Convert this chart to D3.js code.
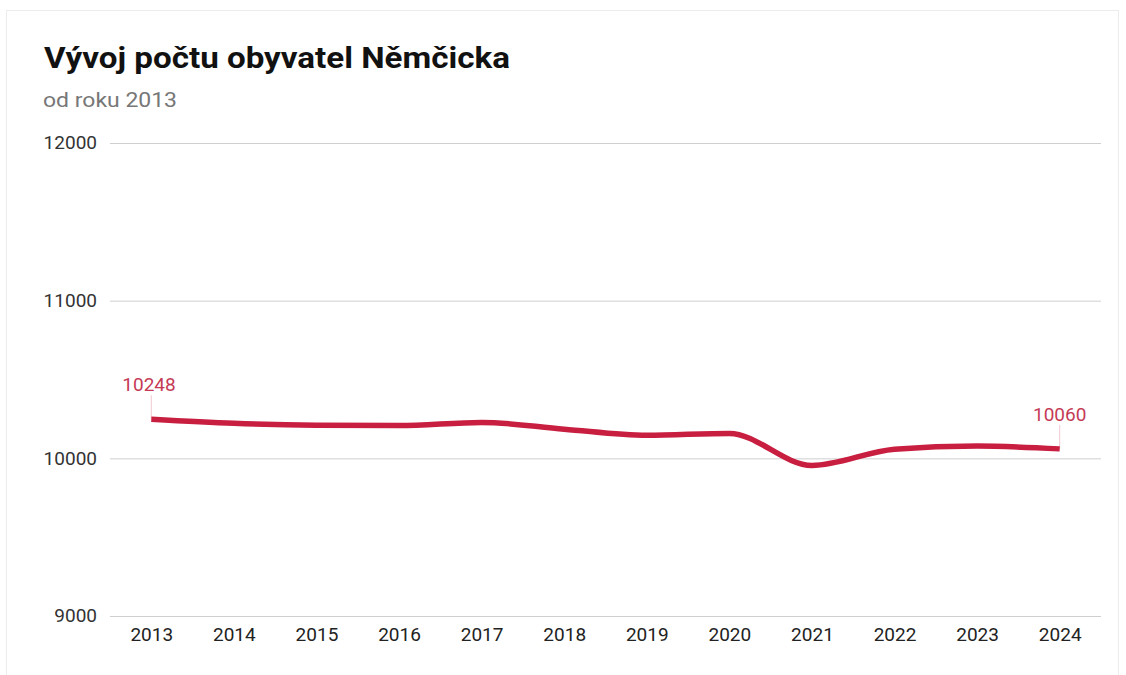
<!DOCTYPE html>
<html>
<head>
<meta charset="utf-8">
<script src="https://cdn.jsdelivr.net/npm/d3@7"></script>
<style>
  body { margin: 0; background: #fff; }
  svg { display: block; font-family: Roboto, "Noto Sans", sans-serif; }
</style>
</head>
<body>
<svg id="chart" width="1126" height="675"></svg>
<script>
  // data
  const years = ['2013', '2014', '2015', '2016', '2017', '2018', '2019', '2020', '2021', '2022', '2023', '2024'];
  const population = [10248, 10222, 10210, 10208, 10228, 10185, 10146, 10158, 9955, 10058, 10078, 10060];
  const yTicks = [9000, 10000, 11000, 12000];

  const svg = d3.select('#chart');

  let padLeft = 110, padRight = 1101, padTop = 143, padBottom = 616;

  // card frame
  svg.append('rect')
    .attr('x', 6.5).attr('y', 10.5)
    .attr('width', 1112).attr('height', 700)
    .attr('fill', 'none')
    .attr('stroke', '#ececec');

  svg.append('text')
    .attr('x', 44).attr('y', 68)
    .attr('font-size', 30).attr('font-weight', 700)
    .attr('fill', '#111')
    .attr('textLength', 466)
    .attr('lengthAdjust', 'spacingAndGlyphs')
    .text('Vývoj počtu obyvatel Němčicka');

  svg.append('text')
    .attr('x', 43).attr('y', 107)
    .attr('font-size', 20)
    .attr('fill', '#777')
    .attr('textLength', 134)
    .attr('lengthAdjust', 'spacingAndGlyphs')
    .text('od roku 2013');

  let scaleX = d3.scalePoint()
    .domain(years)
    .range([padLeft, padRight])
    .padding(0.5);

  let scaleY = d3.scaleLinear()
    .domain([9000, 12000])
    .range([padBottom, padTop]);

  /*
   * grid + y labels
   */
  let axisY = d3.axisLeft(scaleY)
    .tickValues(yTicks)
    .tickSize(-(padRight - padLeft))
    .tickPadding(13)
    .tickFormat(d3.format('d'));

  let gy = svg.append('g')
    .attr('transform', 'translate(' + padLeft + ',0)')
    .call(axisY);
  gy.select('.domain').remove();
  gy.selectAll('line').attr('stroke', '#cfcfcf').attr('stroke-width', 1);
  gy.selectAll('text')
    .attr('font-size', 19)
    .attr('fill', '#333')
    .attr('font-family', 'Roboto, sans-serif')
    .attr('dy', '0.3em');

  /*
   * x labels
   */
  let axisX = d3.axisBottom(scaleX).tickSize(0).tickPadding(12);
  let gx = svg.append('g')
    .attr('transform', 'translate(0,' + padBottom + ')')
    .call(axisX);
  gx.select('.domain').remove();
  gx.selectAll('text')
    .attr('font-size', 19)
    .attr('fill', '#222')
    .attr('font-family', 'Roboto, sans-serif');

  /*
   * line
   */
  let line = d3.line()
    .x(function (d, i) { return scaleX(years[i]); })
    .y(function (d) { return scaleY(d); })
    .curve(d3.curveMonotoneX);

  // end labels with leader lines
  let ends = [0, years.length - 1];
  let labelOffset = [28, 28];
  let labels = svg.append('g');
  ends.forEach(function (i, k) {
    let x = scaleX(years[i]), y = scaleY(population[i]);
    labels.append('line')
      .attr('x1', x).attr('x2', x)
      .attr('y1', y).attr('y2', y - labelOffset[k] + 4)
      .attr('stroke', '#f0c8d0').attr('stroke-width', 1);
    labels.append('text')
      .attr('x', x).attr('y', y - labelOffset[k])
      .attr('text-anchor', i === 0 ? 'start' : 'middle')
      .attr('dx', i === 0 ? -29 : 0)
      .attr('font-size', 19)
      .attr('fill', '#c53a55')
      .text(population[i]);
  });

  svg.append('path')
    .datum(population)
    .attr('d', line)
    .attr('fill', 'none')
    .attr('stroke', '#c81e40')
    .attr('stroke-width', 5.5)
    .attr('stroke-linecap', 'butt');
</script>
</body>
</html>
